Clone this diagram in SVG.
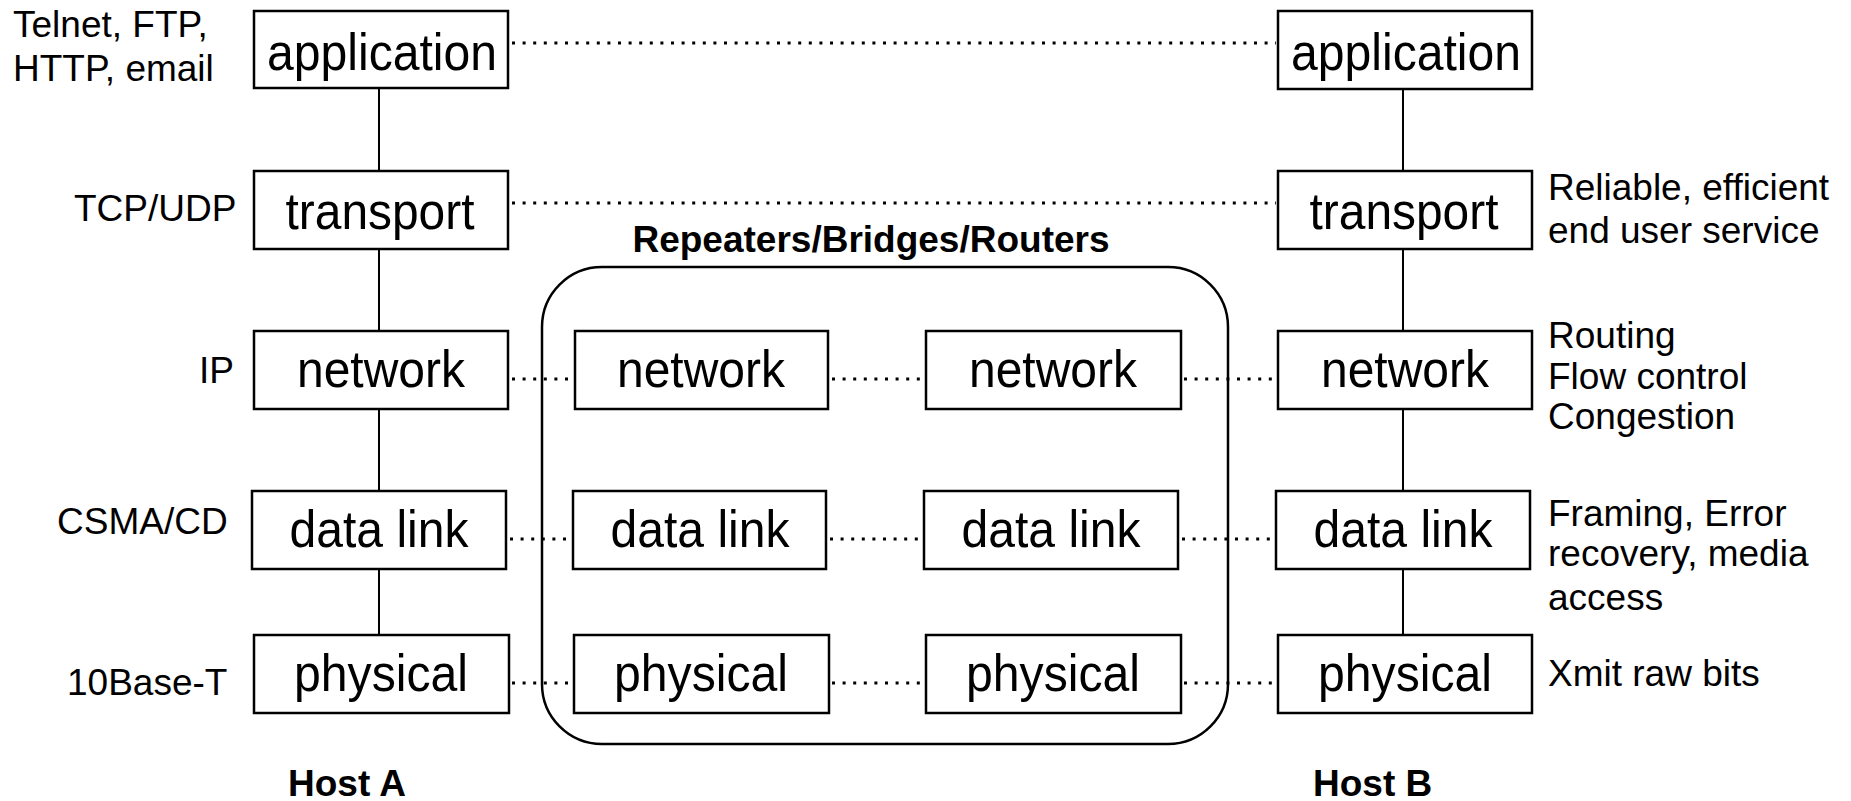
<svg xmlns="http://www.w3.org/2000/svg" width="1851" height="801" viewBox="0 0 1851 801">
  <style>
    .box { fill: #fff; stroke: #000; stroke-width: 2.5; }
    .lbl { font-family: "Liberation Sans", Arial, sans-serif; font-size: 52px; fill: #000; text-anchor: middle; }
    .side { font-family: "Liberation Sans", Arial, sans-serif; font-size: 37px; fill: #000; }
    .bold { font-family: "Liberation Sans", Arial, sans-serif; font-size: 37px; font-weight: bold; fill: #000; }
    .link { stroke: #000; stroke-width: 2; fill: none; }
    .peer { stroke: #000; stroke-width: 3; stroke-dasharray: 3 7.6; fill: none; }
    .cloud { fill: none; stroke: #000; stroke-width: 2.5; }
  </style>
  <rect width="1851" height="801" fill="#fff"/>

  <!-- intermediate systems enclosure -->
  <g id="relays">
    <rect class="cloud" x="542" y="267" width="686" height="477" rx="60" ry="60"/>
    <text class="bold" x="871" y="252" text-anchor="middle" font-size="38">Repeaters/Bridges/Routers</text>
  </g>

  <!-- layer-to-layer connectors -->
  <g id="connectors">
    <!-- host A stack -->
    <line class="link" x1="379" y1="88" x2="379" y2="171"/>
    <line class="link" x1="379" y1="249" x2="379" y2="331"/>
    <line class="link" x1="379" y1="409" x2="379" y2="491"/>
    <line class="link" x1="379" y1="569" x2="379" y2="635"/>
    <!-- host B stack -->
    <line class="link" x1="1403" y1="88" x2="1403" y2="171"/>
    <line class="link" x1="1403" y1="249" x2="1403" y2="331"/>
    <line class="link" x1="1403" y1="409" x2="1403" y2="491"/>
    <line class="link" x1="1403" y1="569" x2="1403" y2="635"/>
    <!-- peer protocols -->
    <line class="peer" x1="512" y1="43" x2="1276" y2="43"/>
    <line class="peer" x1="512" y1="203" x2="1276" y2="203"/>
    <line class="peer" x1="512" y1="379" x2="575" y2="379"/>
    <line class="peer" x1="832" y1="379" x2="926" y2="379"/>
    <line class="peer" x1="1184" y1="379" x2="1278" y2="379"/>
    <line class="peer" x1="510" y1="539" x2="573" y2="539"/>
    <line class="peer" x1="830" y1="539" x2="924" y2="539"/>
    <line class="peer" x1="1182" y1="539" x2="1276" y2="539"/>
    <line class="peer" x1="512" y1="683" x2="574" y2="683"/>
    <line class="peer" x1="832" y1="683" x2="926" y2="683"/>
    <line class="peer" x1="1184" y1="683" x2="1278" y2="683"/>
  </g>

  <!-- Host A -->
  <g id="a-application"><rect class="box" x="254" y="11" width="254" height="77"/><text class="lbl" x="382" y="70" textLength="230" lengthAdjust="spacingAndGlyphs">application</text></g>
  <g id="a-transport"><rect class="box" x="254" y="171" width="254" height="78"/><text class="lbl" x="380" y="229" textLength="189" lengthAdjust="spacingAndGlyphs">transport</text></g>
  <g id="a-network"><rect class="box" x="254" y="331" width="254" height="78"/><text class="lbl" x="381" y="387" textLength="168" lengthAdjust="spacingAndGlyphs">network</text></g>
  <g id="a-datalink"><rect class="box" x="252" y="491" width="254" height="78"/><text class="lbl" x="379" y="547" textLength="179" lengthAdjust="spacingAndGlyphs">data link</text></g>
  <g id="a-physical"><rect class="box" x="254" y="635" width="255" height="78"/><text class="lbl" x="381" y="691" textLength="174" lengthAdjust="spacingAndGlyphs">physical</text></g>

  <!-- relay 1 -->
  <g id="r1-network"><rect class="box" x="575" y="331" width="253" height="78"/><text class="lbl" x="701" y="387" textLength="168" lengthAdjust="spacingAndGlyphs">network</text></g>
  <g id="r1-datalink"><rect class="box" x="573" y="491" width="253" height="78"/><text class="lbl" x="700" y="547" textLength="179" lengthAdjust="spacingAndGlyphs">data link</text></g>
  <g id="r1-physical"><rect class="box" x="574" y="635" width="255" height="78"/><text class="lbl" x="701" y="691" textLength="174" lengthAdjust="spacingAndGlyphs">physical</text></g>

  <!-- relay 2 -->
  <g id="r2-network"><rect class="box" x="926" y="331" width="255" height="78"/><text class="lbl" x="1053" y="387" textLength="168" lengthAdjust="spacingAndGlyphs">network</text></g>
  <g id="r2-datalink"><rect class="box" x="924" y="491" width="254" height="78"/><text class="lbl" x="1051" y="547" textLength="179" lengthAdjust="spacingAndGlyphs">data link</text></g>
  <g id="r2-physical"><rect class="box" x="926" y="635" width="255" height="78"/><text class="lbl" x="1053" y="691" textLength="174" lengthAdjust="spacingAndGlyphs">physical</text></g>

  <!-- Host B -->
  <g id="b-application"><rect class="box" x="1278" y="11" width="254" height="78"/><text class="lbl" x="1406" y="70" textLength="230" lengthAdjust="spacingAndGlyphs">application</text></g>
  <g id="b-transport"><rect class="box" x="1278" y="171" width="254" height="78"/><text class="lbl" x="1404" y="229" textLength="189" lengthAdjust="spacingAndGlyphs">transport</text></g>
  <g id="b-network"><rect class="box" x="1278" y="331" width="254" height="78"/><text class="lbl" x="1405" y="387" textLength="168" lengthAdjust="spacingAndGlyphs">network</text></g>
  <g id="b-datalink"><rect class="box" x="1276" y="491" width="254" height="78"/><text class="lbl" x="1403" y="547" textLength="179" lengthAdjust="spacingAndGlyphs">data link</text></g>
  <g id="b-physical"><rect class="box" x="1278" y="635" width="254" height="78"/><text class="lbl" x="1405" y="691" textLength="174" lengthAdjust="spacingAndGlyphs">physical</text></g>

  <!-- protocol examples -->
  <g id="examples">
    <text class="side" x="13" y="37" font-size="39">Telnet, FTP,</text>
    <text class="side" x="13" y="81" font-size="39">HTTP, email</text>
    <text class="side" x="74" y="221">TCP/UDP</text>
    <text class="side" x="199" y="383">IP</text>
    <text class="side" x="57" y="534">CSMA/CD</text>
    <text class="side" x="67" y="695">10Base-T</text>
  </g>

  <!-- layer duties -->
  <g id="duties">
    <text class="side" x="1548" y="200">Reliable, efficient</text>
    <text class="side" x="1548" y="243">end user service</text>
    <text class="side" x="1548" y="348">Routing</text>
    <text class="side" x="1548" y="389">Flow control</text>
    <text class="side" x="1548" y="429">Congestion</text>
    <text class="side" x="1548" y="526">Framing, Error</text>
    <text class="side" x="1548" y="566">recovery, media</text>
    <text class="side" x="1548" y="610">access</text>
    <text class="side" x="1548" y="686">Xmit raw bits</text>
  </g>

  <g id="host-a"><text class="bold" x="288" y="796">Host A</text></g>
  <g id="host-b"><text class="bold" x="1313" y="796">Host B</text></g>
</svg>
